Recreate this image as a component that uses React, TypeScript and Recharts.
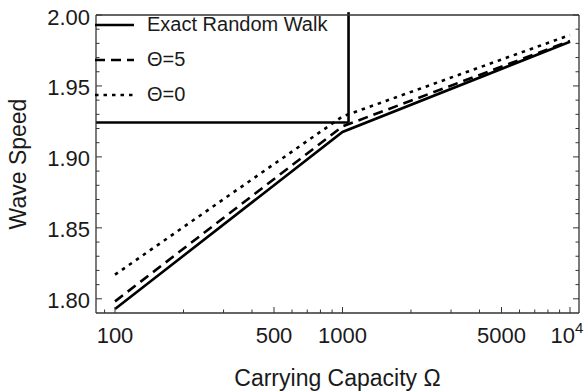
import { LineChart, Line, XAxis, YAxis, ReferenceLine } from "recharts";

// Carrying capacity Ω (log axis) and wave speed for each model
const omegaValues = [100, 1000, 10000];
const exactWalk = [1.7928, 1.9176, 1.9812];
const theta5 = [1.7982, 1.9215, 1.9817];
const theta0 = [1.817, 1.9285, 1.9859];

// crossover marker: horizontal + vertical guide
const crossoverOmega = 1063;
const crossoverSpeed = 1.9242;
const guideTop = 2.002;

const xMajorTicks = [100, 500, 1000, 5000, 10000];
const xMinorTicks = [90, 200, 300, 400, 600, 700, 800, 900, 2000, 3000, 4000, 6000, 7000, 8000, 9000];
const yMajorTicks = [1.8, 1.85, 1.9, 1.95, 2.0];
const yMinorTicks = [
  1.81, 1.82, 1.83, 1.84, 1.86, 1.87, 1.88, 1.89, 1.91, 1.92, 1.93, 1.94, 1.96, 1.97, 1.98, 1.99,
];

const X_DOMAIN: [number, number] = [82.5, 10955];
const Y_DOMAIN: [number, number] = [1.79, 2.0];

const FONT = "'Liberation Sans', Arial, sans-serif";
const FRAME = "#333";
const INK = "#1a1a1a";
const TICK_FONT = 22;
const TITLE_FONT = 23;

const SERIES = [
  { key: "exact", label: "Exact Random Walk", dash: undefined as string | undefined },
  { key: "theta5", label: "Θ=5", dash: "10 6" },
  { key: "theta0", label: "Θ=0", dash: "3.5 5" },
];

const data = omegaValues.map((omega, i) => ({
  omega,
  exact: exactWalk[i],
  theta5: theta5[i],
  theta0: theta0[i],
}));

const allXTicks = [...xMinorTicks, ...xMajorTicks];
const allYTicks = [...yMinorTicks, ...yMajorTicks];
const isMajorX = (v: number) => xMajorTicks.includes(v);
const isMajorY = (v: number) => yMajorTicks.some((t) => Math.abs(t - v) < 1e-9);

function omegaLabel(v: number) {
  if (v === 10000) {
    return (
      <>
        10
        <tspan dy={-10} fontSize={15}>
          4
        </tspan>
      </>
    );
  }
  return String(v);
}

// tickSize/tickMargin are 0 on every axis, so x/y below sit exactly on the frame
function BottomTick({ x, y, payload }: any) {
  const major = isMajorX(payload.value);
  return (
    <g>
      <line x1={x} x2={x} y1={y} y2={y - (major ? 6 : 3.5)} stroke={FRAME} strokeWidth={1} />
      {major && (
        <text
          x={x}
          y={y + 30}
          dx={payload.value === 10000 ? -3 : 0}
          textAnchor="middle"
          fontSize={TICK_FONT}
          fontFamily={FONT}
          fill={INK}
        >
          {omegaLabel(payload.value)}
        </text>
      )}
    </g>
  );
}

function TopTick({ x, y, payload }: any) {
  const major = isMajorX(payload.value);
  return <line x1={x} x2={x} y1={y} y2={y + (major ? 6 : 3.5)} stroke={FRAME} strokeWidth={1} />;
}

function LeftTick({ x, y, payload }: any) {
  const major = isMajorY(payload.value);
  return (
    <g>
      <line x1={x} x2={x + (major ? 6 : 3.5)} y1={y} y2={y} stroke={FRAME} strokeWidth={1} />
      {major && (
        <text x={x - 6} y={y + 9.5} textAnchor="end" fontSize={TICK_FONT} fontFamily={FONT} fill={INK}>
          {payload.value.toFixed(2)}
        </text>
      )}
    </g>
  );
}

function RightTick({ x, y, payload }: any) {
  const major = isMajorY(payload.value);
  return <line x1={x} x2={x - (major ? 6 : 3.5)} y1={y} y2={y} stroke={FRAME} strokeWidth={1} />;
}

function XTitle({ viewBox }: any) {
  const { x, y, width, height } = viewBox;
  return (
    <text x={x + width / 2} y={y + height - 5} textAnchor="middle" fontSize={TITLE_FONT} fontFamily={FONT} fill={INK}>
      Carrying Capacity Ω
    </text>
  );
}

function YTitle({ viewBox }: any) {
  const cy = viewBox.y + viewBox.height / 2;
  return (
    <text
      x={18}
      y={cy}
      dy="0.36em"
      transform={`rotate(-90 18 ${cy})`}
      textAnchor="middle"
      fontSize={TITLE_FONT}
      fontFamily={FONT}
      fill={INK}
    >
      Wave Speed
    </text>
  );
}

function LegendBox() {
  return (
    <div style={{ position: "absolute", left: 95, top: 7, fontFamily: FONT, fontSize: 20, color: INK }}>
      {SERIES.map((s) => (
        <div key={s.key} style={{ height: 35, display: "flex", alignItems: "center" }}>
          <svg width={39} height={6} style={{ marginRight: 13 }}>
            <line x1={0} x2={39} y1={3} y2={3} stroke="#000" strokeWidth={2.6} strokeDasharray={s.dash} />
          </svg>
          <span>{s.label}</span>
        </div>
      ))}
    </div>
  );
}

export default function App() {
  const axisLine = { stroke: FRAME, strokeWidth: 1.3 };
  return (
    <div style={{ position: "fixed", left: 0, top: 0, width: 586, height: 391, background: "#fff" }}>
      <LineChart width={586} height={391} data={data} margin={{ top: 14, right: 6, bottom: 0, left: 0 }}>
        <XAxis
          xAxisId="x"
          dataKey="omega"
          type="number"
          scale="log"
          domain={X_DOMAIN}
          allowDataOverflow
          ticks={allXTicks}
          interval={0}
          tickSize={0}
          tickMargin={0}
          tickLine={false}
          axisLine={axisLine}
          tick={(p: any) => <BottomTick {...p} />}
          height={78}
          label={(p: any) => <XTitle {...p} />}
        />
        <XAxis
          xAxisId="top"
          orientation="top"
          type="number"
          scale="log"
          domain={X_DOMAIN}
          allowDataOverflow
          ticks={allXTicks}
          interval={0}
          tickSize={0}
          tickMargin={0}
          tickLine={false}
          axisLine={axisLine}
          tick={(p: any) => <TopTick {...p} />}
          height={1}
        />
        <YAxis
          yAxisId="y"
          type="number"
          domain={Y_DOMAIN}
          allowDataOverflow
          ticks={allYTicks}
          interval={0}
          tickSize={0}
          tickMargin={0}
          tickLine={false}
          axisLine={axisLine}
          tick={(p: any) => <LeftTick {...p} />}
          width={96}
          label={(p: any) => <YTitle {...p} />}
        />
        <YAxis
          yAxisId="right"
          orientation="right"
          type="number"
          domain={Y_DOMAIN}
          allowDataOverflow
          ticks={allYTicks}
          interval={0}
          tickSize={0}
          tickMargin={0}
          tickLine={false}
          axisLine={axisLine}
          tick={(p: any) => <RightTick {...p} />}
          width={1}
        />
        <ReferenceLine
          xAxisId="x"
          yAxisId="y"
          segment={[
            { x: X_DOMAIN[0], y: crossoverSpeed },
            { x: crossoverOmega, y: crossoverSpeed },
          ]}
          stroke="#000"
          strokeWidth={2.6}
          ifOverflow="visible"
        />
        <ReferenceLine
          xAxisId="x"
          yAxisId="y"
          segment={[
            { x: crossoverOmega, y: crossoverSpeed },
            { x: crossoverOmega, y: guideTop },
          ]}
          stroke="#000"
          strokeWidth={2.6}
          ifOverflow="visible"
        />
        {SERIES.map((s) => (
          <Line
            key={s.key}
            xAxisId="x"
            yAxisId="y"
            type="linear"
            dataKey={s.key}
            stroke="#000"
            strokeWidth={2.6}
            strokeDasharray={s.dash}
            dot={false}
            isAnimationActive={false}
          />
        ))}
      </LineChart>
      <LegendBox />
    </div>
  );
}
